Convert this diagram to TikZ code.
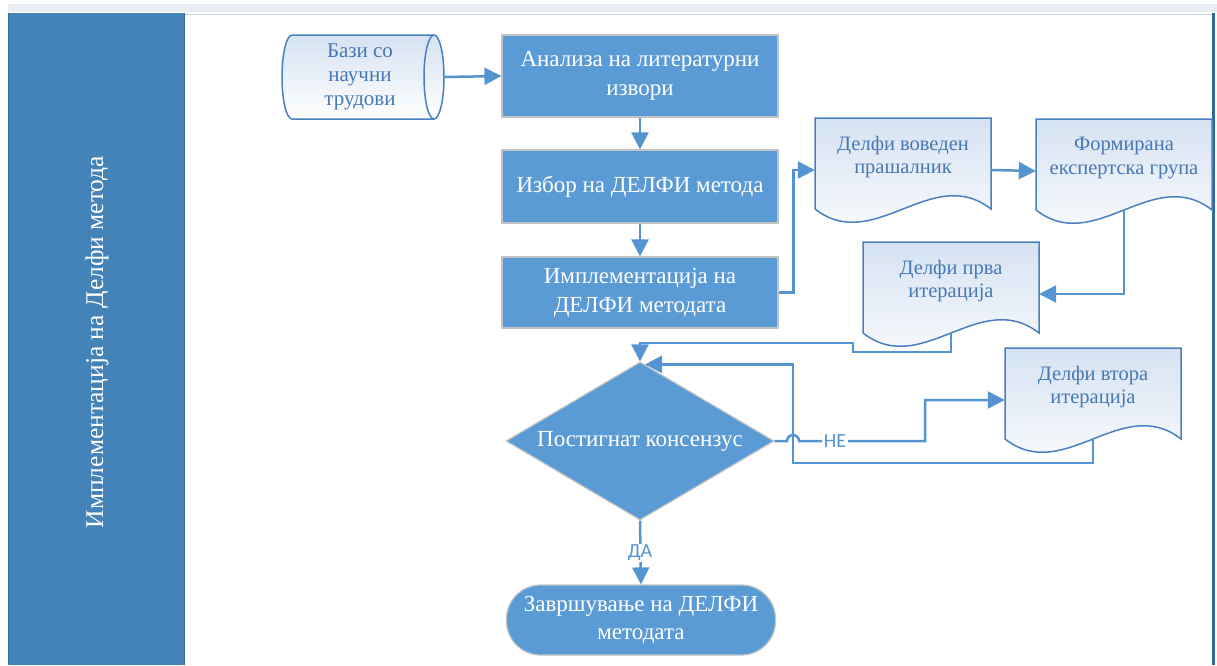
\documentclass[tikz,border=0pt]{standalone}
\usepackage{fontspec}
\setmainfont{Liberation Serif}
\newfontfamily\sansf{Carlito}
\usetikzlibrary{arrows.meta,shapes.geometric,calc}
\definecolor{lane}{RGB}{68,131,183}
\definecolor{laneedge}{RGB}{50,105,155}
\definecolor{boxblue}{RGB}{91,155,213}
\definecolor{boxedge}{RGB}{195,195,195}
\definecolor{conn}{RGB}{84,148,208}
\definecolor{docedge}{RGB}{74,128,192}
\definecolor{doctxt}{RGB}{70,120,180}
\definecolor{doctop}{RGB}{214,226,242}
\definecolor{strip}{RGB}{233,237,244}
\definecolor{frameline}{RGB}{200,212,230}
\tikzset{
  proc/.style={rectangle, fill=boxblue, draw=boxedge, line width=1.2pt, minimum width=276pt,
    text=white, font=\fontsize{23}{29}\selectfont, align=center, inner sep=0pt},
  conn/.style={draw=conn, line width=2.5pt, -{Triangle[length=17pt,width=17pt]}},
  plain/.style={draw=conn, line width=2.5pt},
  doctext/.style={text=doctxt, font=\fontsize{20.5}{23.5}\selectfont, align=center},
  docbox/.style={draw=none, minimum width=176pt, inner sep=0pt},
  lbl/.style={fill=white, font=\sansf\fontsize{20}{20}\selectfont, text=conn, inner sep=1.5pt},
}
\newcommand{\docshape}[4]{%
  \begin{scope}[shift={(#2,#3)}]
    \path[top color=doctop, bottom color=white, draw=docedge, line width=1.5pt]
      (0,0) -- (176,0) -- (176,91) .. controls (117,45) and (59,137) .. (0,91) -- cycle;
    \node[docbox, minimum height=104pt] (#1) at (88,52) {};
    \node[doctext] (#1t) at (88,39) {#4};
    \coordinate (#1b) at (88,91);
  \end{scope}}
\begin{document}
\begin{tikzpicture}[x=1pt,y=-1pt]
\useasboundingbox (0,0) rectangle (1217,665);
% frame
\fill[strip] (8,4) rectangle (1217,12);
\draw[frameline, line width=1pt] (185,14) -- (1213,14);
\draw[laneedge, line width=2.5pt] (1213.5,13) -- (1213.5,665);
\fill[lane] (8,13) rectangle (185,665);
\draw[laneedge, line width=1pt] (8.5,13) -- (8.5,665);
\draw[laneedge, line width=1pt] (184.5,13) -- (184.5,665);
\node[rotate=90, text=white, font=\fontsize{25.5}{25.5}\selectfont] (lanetitle) at (97,342) {Имплементација на Делфи метода};

% cylinder
\path[top color=doctop, bottom color=white, draw=docedge, line width=1.5pt]
  (292,35) -- (434,35) arc[start angle=-90, end angle=90, x radius=10, y radius=42]
  -- (292,119) arc[start angle=90, end angle=270, x radius=10, y radius=42] -- cycle;
\draw[docedge, line width=1.5pt] (434,35) arc[start angle=270, end angle=90, x radius=10, y radius=42];
\node[minimum width=168pt, minimum height=84pt, inner sep=0pt, text=doctxt, align=center,
  font=\fontsize{21}{24}\selectfont] (cyl) at (360,77) {Бази со\\научни\\трудови};

% process boxes
\node[proc, minimum height=82pt] (box1) at (640,76) {Анализа на литературни\\извори};
\node[proc, minimum height=73pt] (box2) at (640,186.5) {Избор на ДЕЛФИ метода};
\node[proc, minimum height=71pt] (box3) at (640,292.5) {Имплементација на\\ДЕЛФИ методата};

% decision and terminal
\node[diamond, aspect=1.7, minimum width=268pt, minimum height=158pt, inner sep=0pt,
  fill=boxblue, draw=boxedge, line width=1.2pt, text=white,
  font=\fontsize{23}{29}\selectfont] (dia) at (640,441) {Постигнат консензус};
\node[rectangle, rounded corners=34pt, minimum width=269pt, minimum height=70pt, inner sep=0pt,
  fill=boxblue, draw=boxedge, line width=1.2pt, text=white, align=center,
  font=\fontsize{23}{28}\selectfont] (term) at (641,620) {Завршување на ДЕЛФИ\\методата};

% documents
\docshape{d1}{815}{118}{Делфи воведен\\прашалник}
\docshape{d2}{1036}{119}{Формирана\\експертска група}
\docshape{d3}{863}{242}{Делфи прва\\итерација}
\docshape{d4}{1005}{348}{Делфи втора\\итерација}

% connectors
\draw[conn] (cyl.east) -- (box1.west);
\draw[conn] (box1.south) -- (box2.north);
\draw[conn] (box2.south) -- (box3.north);
\draw[conn] (box3.east) -- ++(15,0) |- (d1.west);
\draw[conn] (d1.east) -- (d2.west);
\draw[conn] (d2b) |- (d3.east);
\draw[conn] (d3b) |- (853,352) |- (640,343) -- (dia.north);
\coordinate (diatop) at ($(dia.north)+(5,3)$);
\draw[conn] (d4b) |- (793,463) |- (diatop);
\draw[conn] (dia.east) -- (787,441) arc[start angle=180, end angle=360, radius=6] -- (925,441) |- (d4.west);
\node[lbl] (ne) at (835,441) {НЕ};
\draw[conn] (dia.south) -- (term.north);
\node[lbl] (da) at (640,553) {ДА};
\end{tikzpicture}
\end{document}
